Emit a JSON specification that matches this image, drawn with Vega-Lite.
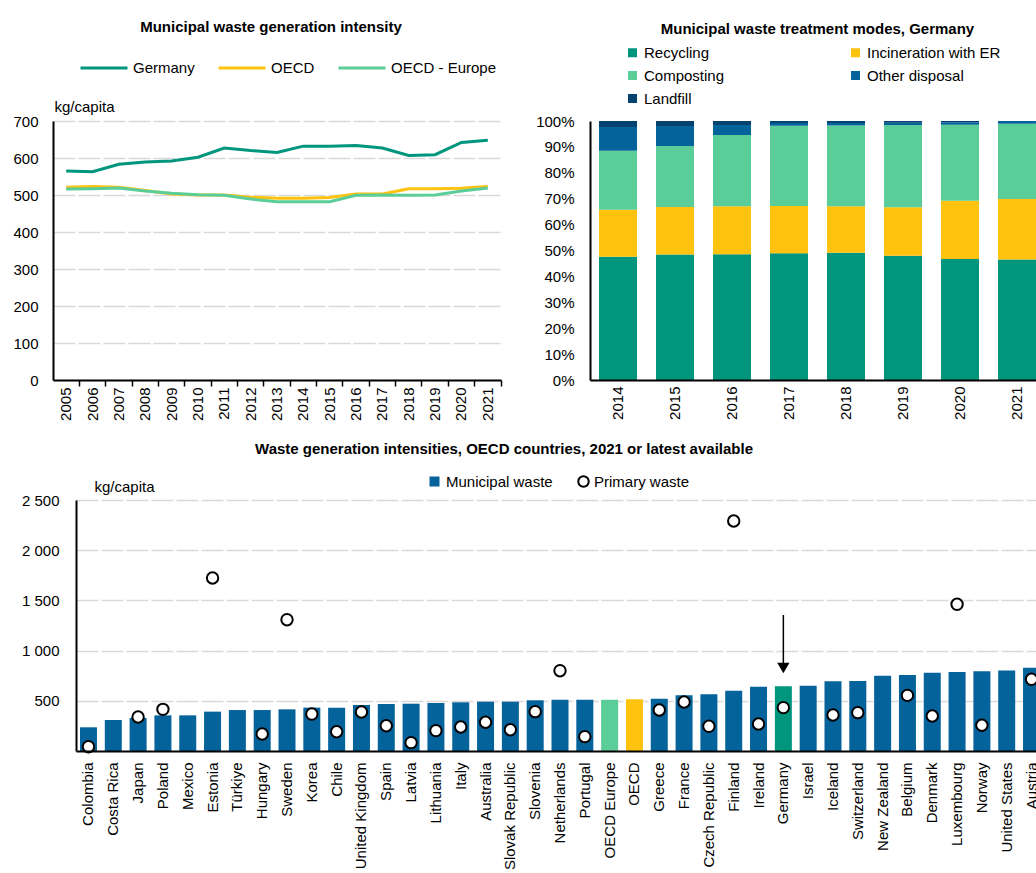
{
  "$schema": "https://vega.github.io/schema/vega-lite/v6.json",
  "background": "white",
  "padding": {"left": 12, "top": 20, "right": 0, "bottom": 0},
  "config": {
    "font": "Liberation Sans",
    "view": {"stroke": null},
    "axis": {
      "labelFont": "Liberation Sans",
      "titleFont": "Liberation Sans",
      "labelFontSize": 15,
      "titleFontSize": 15,
      "titleFontWeight": "normal",
      "labelColor": "#000",
      "titleColor": "#000",
      "domainColor": "#000",
      "domainWidth": 2,
      "tickColor": "#000",
      "tickWidth": 1.5,
      "gridColor": "#d9d9d9",
      "gridDash": [22, 3],
      "gridWidth": 1.5
    },
    "legend": {
      "labelFont": "Liberation Sans",
      "labelFontSize": 15,
      "labelColor": "#000"
    },
    "title": {
      "font": "Liberation Sans",
      "fontSize": 15,
      "fontWeight": "bold",
      "color": "#000",
      "anchor": "middle",
      "frame": "group"
    }
  },
  "spacing": 21,
  "resolve": {
    "scale": {"color": "independent", "stroke": "independent"},
    "legend": {"color": "independent", "stroke": "independent"}
  },
  "vconcat": [
    {
      "bounds": "flush",
      "spacing": 89,
      "resolve": {
        "scale": {"color": "independent"},
        "legend": {"color": "independent"}
      },
      "hconcat": [
        {
          "width": 448,
          "height": 259,
          "title": {"text": "Municipal waste generation intensity", "dx": -6, "offset": 8},
          "data": {
            "values": [
              {"year": "2005", "series": "Germany", "value": 565},
              {"year": "2006", "series": "Germany", "value": 563},
              {"year": "2007", "series": "Germany", "value": 583},
              {"year": "2008", "series": "Germany", "value": 589},
              {"year": "2009", "series": "Germany", "value": 592},
              {"year": "2010", "series": "Germany", "value": 602},
              {"year": "2011", "series": "Germany", "value": 627},
              {"year": "2012", "series": "Germany", "value": 620},
              {"year": "2013", "series": "Germany", "value": 615},
              {"year": "2014", "series": "Germany", "value": 632},
              {"year": "2015", "series": "Germany", "value": 632},
              {"year": "2016", "series": "Germany", "value": 634},
              {"year": "2017", "series": "Germany", "value": 627},
              {"year": "2018", "series": "Germany", "value": 607},
              {"year": "2019", "series": "Germany", "value": 609},
              {"year": "2020", "series": "Germany", "value": 642},
              {"year": "2021", "series": "Germany", "value": 648},
              {"year": "2005", "series": "OECD", "value": 521},
              {"year": "2006", "series": "OECD", "value": 523},
              {"year": "2007", "series": "OECD", "value": 521},
              {"year": "2008", "series": "OECD", "value": 512},
              {"year": "2009", "series": "OECD", "value": 503},
              {"year": "2010", "series": "OECD", "value": 500},
              {"year": "2011", "series": "OECD", "value": 500},
              {"year": "2012", "series": "OECD", "value": 494},
              {"year": "2013", "series": "OECD", "value": 491},
              {"year": "2014", "series": "OECD", "value": 491},
              {"year": "2015", "series": "OECD", "value": 493},
              {"year": "2016", "series": "OECD", "value": 503},
              {"year": "2017", "series": "OECD", "value": 503},
              {"year": "2018", "series": "OECD", "value": 517},
              {"year": "2019", "series": "OECD", "value": 517},
              {"year": "2020", "series": "OECD", "value": 518},
              {"year": "2021", "series": "OECD", "value": 523},
              {"year": "2005", "series": "OECD - Europe", "value": 516},
              {"year": "2006", "series": "OECD - Europe", "value": 517},
              {"year": "2007", "series": "OECD - Europe", "value": 519},
              {"year": "2008", "series": "OECD - Europe", "value": 511},
              {"year": "2009", "series": "OECD - Europe", "value": 505},
              {"year": "2010", "series": "OECD - Europe", "value": 501},
              {"year": "2011", "series": "OECD - Europe", "value": 499},
              {"year": "2012", "series": "OECD - Europe", "value": 489},
              {"year": "2013", "series": "OECD - Europe", "value": 482},
              {"year": "2014", "series": "OECD - Europe", "value": 482},
              {"year": "2015", "series": "OECD - Europe", "value": 482},
              {"year": "2016", "series": "OECD - Europe", "value": 499},
              {"year": "2017", "series": "OECD - Europe", "value": 500},
              {"year": "2018", "series": "OECD - Europe", "value": 499},
              {"year": "2019", "series": "OECD - Europe", "value": 500},
              {"year": "2020", "series": "OECD - Europe", "value": 511},
              {"year": "2021", "series": "OECD - Europe", "value": 519}
            ]
          },
          "resolve": {"axis": {"x": "independent"}},
          "layer": [
            {
              "mark": {"type": "line", "strokeWidth": 3},
              "encoding": {
                "x": {
                  "field": "year",
                  "type": "ordinal",
                  "scale": {"type": "band", "paddingInner": 0, "paddingOuter": 0},
                  "axis": {"orient": "bottom", "title": null, "labelAngle": -90, "ticks": false, "labelPadding": 7, "zindex": 1}
                },
                "y": {
                  "field": "value",
                  "type": "quantitative",
                  "scale": {"domain": [0, 700], "nice": false},
                  "axis": {
                    "values": [0, 100, 200, 300, 400, 500, 600, 700],
                    "labelOverlap": false,
                    "ticks": false,
                    "grid": true,
                    "labelPadding": 15,
                    "title": "kg/capita",
                    "titleAngle": 0,
                    "titleAlign": "left",
                    "titleBaseline": "alphabetic",
                    "titleX": 1,
                    "titleY": -10
                  }
                },
                "color": {
                  "field": "series",
                  "type": "nominal",
                  "scale": {
                    "domain": ["Germany", "OECD", "OECD - Europe"],
                    "range": ["#00957d", "#ffc20e", "#5acd99"]
                  },
                  "legend": {
                    "title": null,
                    "orient": "none",
                    "direction": "horizontal",
                    "legendX": 26,
                    "legendY": -78,
                    "symbolType": "stroke",
                    "symbolSize": 2209,
                    "symbolStrokeWidth": 3,
                    "labelOffset": 4,
                    "columnPadding": 17
                  }
                }
              }
            },
            {
              "mark": {"type": "point", "opacity": 0},
              "encoding": {
                "x": {
                  "field": "year",
                  "type": "ordinal",
                  "axis": {"orient": "bottom", "title": null, "labels": false, "domain": false, "grid": false, "ticks": true, "tickSize": 6, "bandPosition": 1}
                }
              }
            }
          ]
        },
        {
          "width": 455,
          "height": 259,
          "title": {"text": "Municipal waste treatment modes, Germany", "offset": 8},
          "data": {
            "values": [
              {"year": "2014", "mode": "Recycling", "share": 47.6},
              {"year": "2014", "mode": "Incineration with ER", "share": 18.1},
              {"year": "2014", "mode": "Composting", "share": 22.8},
              {"year": "2014", "mode": "Other disposal", "share": 9.2},
              {"year": "2014", "mode": "Landfill", "share": 2.3},
              {"year": "2015", "mode": "Recycling", "share": 48.5},
              {"year": "2015", "mode": "Incineration with ER", "share": 18.3},
              {"year": "2015", "mode": "Composting", "share": 23.5},
              {"year": "2015", "mode": "Other disposal", "share": 7.8},
              {"year": "2015", "mode": "Landfill", "share": 1.9},
              {"year": "2016", "mode": "Recycling", "share": 48.6},
              {"year": "2016", "mode": "Incineration with ER", "share": 18.5},
              {"year": "2016", "mode": "Composting", "share": 27.5},
              {"year": "2016", "mode": "Other disposal", "share": 3.9},
              {"year": "2016", "mode": "Landfill", "share": 1.5},
              {"year": "2017", "mode": "Recycling", "share": 48.9},
              {"year": "2017", "mode": "Incineration with ER", "share": 18.3},
              {"year": "2017", "mode": "Composting", "share": 31.0},
              {"year": "2017", "mode": "Other disposal", "share": 1.0},
              {"year": "2017", "mode": "Landfill", "share": 0.8},
              {"year": "2018", "mode": "Recycling", "share": 49.1},
              {"year": "2018", "mode": "Incineration with ER", "share": 18.0},
              {"year": "2018", "mode": "Composting", "share": 31.2},
              {"year": "2018", "mode": "Other disposal", "share": 0.9},
              {"year": "2018", "mode": "Landfill", "share": 0.8},
              {"year": "2019", "mode": "Recycling", "share": 48.0},
              {"year": "2019", "mode": "Incineration with ER", "share": 18.7},
              {"year": "2019", "mode": "Composting", "share": 31.8},
              {"year": "2019", "mode": "Other disposal", "share": 0.8},
              {"year": "2019", "mode": "Landfill", "share": 0.7},
              {"year": "2020", "mode": "Recycling", "share": 46.7},
              {"year": "2020", "mode": "Incineration with ER", "share": 22.5},
              {"year": "2020", "mode": "Composting", "share": 29.4},
              {"year": "2020", "mode": "Other disposal", "share": 0.9},
              {"year": "2020", "mode": "Landfill", "share": 0.5},
              {"year": "2021", "mode": "Recycling", "share": 46.5},
              {"year": "2021", "mode": "Incineration with ER", "share": 23.4},
              {"year": "2021", "mode": "Composting", "share": 29.0},
              {"year": "2021", "mode": "Other disposal", "share": 1.1},
              {"year": "2021", "mode": "Landfill", "share": 0.0}
            ]
          },
          "transform": [
            {"calculate": "indexof(['Recycling', 'Incineration with ER', 'Composting', 'Other disposal', 'Landfill'], datum.mode)", "as": "stackRank"}
          ],
          "mark": {"type": "bar"},
          "encoding": {
            "x": {
              "field": "year",
              "type": "ordinal",
              "scale": {"paddingInner": 0.333, "paddingOuter": 0.158},
              "axis": {"title": null, "labelAngle": -90, "ticks": false, "labelPadding": 6, "zindex": 1}
            },
            "y": {
              "field": "share",
              "type": "quantitative",
              "stack": "zero",
              "scale": {"domain": [0, 100], "nice": false},
              "axis": {
                "title": null,
                "values": [0, 10, 20, 30, 40, 50, 60, 70, 80, 90, 100],
                "labelExpr": "datum.value + '%'",
                "ticks": false,
                "grid": false,
                "labelPadding": 16
              }
            },
            "order": {"field": "stackRank", "type": "quantitative", "sort": "ascending"},
            "color": {
              "field": "mode",
              "type": "nominal",
              "scale": {
                "domain": ["Recycling", "Incineration with ER", "Composting", "Other disposal", "Landfill"],
                "range": ["#00957d", "#ffc20e", "#5acd99", "#05639c", "#044270"]
              },
              "legend": {
                "title": null,
                "orient": "none",
                "direction": "horizontal",
                "columns": 2,
                "legendX": 35,
                "legendY": -76,
                "symbolType": "square",
                "symbolSize": 81,
                "symbolStrokeWidth": 0,
                "labelOffset": 4,
                "columnPadding": 123,
                "rowPadding": 7
              }
            }
          }
        }
      ]
    },
    {
      "bounds": "flush",
      "spacing": 22,
      "resolve": {
        "scale": {"color": "independent", "stroke": "independent"},
        "legend": {"color": "independent", "stroke": "independent"}
      },
      "hconcat": [
        {
          "width": 1,
          "height": 10,
          "data": {"values": [{}]},
          "mark": {"type": "point", "opacity": 0},
          "encoding": {}
        },
        {
          "width": 968,
          "height": 251,
          "title": {"text": "Waste generation intensities, OECD countries, 2021 or latest available", "dx": -56, "offset": 17},
          "data": {
            "values": [
              {"country": "Colombia", "municipal": 236, "primary": 43, "group": "Municipal waste"},
              {"country": "Costa Rica", "municipal": 309, "primary": null, "group": "Municipal waste"},
              {"country": "Japan", "municipal": 329, "primary": 339, "group": "Municipal waste"},
              {"country": "Poland", "municipal": 355, "primary": 415, "group": "Municipal waste"},
              {"country": "Mexico", "municipal": 355, "primary": null, "group": "Municipal waste"},
              {"country": "Estonia", "municipal": 392, "primary": 1723, "group": "Municipal waste"},
              {"country": "Türkiye", "municipal": 408, "primary": null, "group": "Municipal waste"},
              {"country": "Hungary", "municipal": 408, "primary": 169, "group": "Municipal waste"},
              {"country": "Sweden", "municipal": 415, "primary": 1308, "group": "Municipal waste"},
              {"country": "Korea", "municipal": 432, "primary": 368, "group": "Municipal waste"},
              {"country": "Chile", "municipal": 432, "primary": 192, "group": "Municipal waste"},
              {"country": "United Kingdom", "municipal": 458, "primary": 388, "group": "Municipal waste"},
              {"country": "Spain", "municipal": 468, "primary": 252, "group": "Municipal waste"},
              {"country": "Latvia", "municipal": 471, "primary": 83, "group": "Municipal waste"},
              {"country": "Lithuania", "municipal": 478, "primary": 203, "group": "Municipal waste"},
              {"country": "Italy", "municipal": 485, "primary": 239, "group": "Municipal waste"},
              {"country": "Australia", "municipal": 491, "primary": 286, "group": "Municipal waste"},
              {"country": "Slovak Republic", "municipal": 491, "primary": 212, "group": "Municipal waste"},
              {"country": "Slovenia", "municipal": 505, "primary": 392, "group": "Municipal waste"},
              {"country": "Netherlands", "municipal": 511, "primary": 800, "group": "Municipal waste"},
              {"country": "Portugal", "municipal": 511, "primary": 143, "group": "Municipal waste"},
              {"country": "OECD Europe", "municipal": 511, "primary": null, "group": "OECD Europe"},
              {"country": "OECD", "municipal": 515, "primary": null, "group": "OECD"},
              {"country": "Greece", "municipal": 521, "primary": 408, "group": "Municipal waste"},
              {"country": "France", "municipal": 555, "primary": 488, "group": "Municipal waste"},
              {"country": "Czech Republic", "municipal": 564, "primary": 246, "group": "Municipal waste"},
              {"country": "Finland", "municipal": 601, "primary": 2291, "group": "Municipal waste"},
              {"country": "Ireland", "municipal": 641, "primary": 269, "group": "Municipal waste"},
              {"country": "Germany", "municipal": 646, "primary": 432, "group": "Germany"},
              {"country": "Israel", "municipal": 651, "primary": null, "group": "Municipal waste"},
              {"country": "Iceland", "municipal": 694, "primary": 359, "group": "Municipal waste"},
              {"country": "Switzerland", "municipal": 697, "primary": 382, "group": "Municipal waste"},
              {"country": "New Zealand", "municipal": 750, "primary": null, "group": "Municipal waste"},
              {"country": "Belgium", "municipal": 757, "primary": 554, "group": "Municipal waste"},
              {"country": "Denmark", "municipal": 780, "primary": 349, "group": "Municipal waste"},
              {"country": "Luxembourg", "municipal": 787, "primary": 1461, "group": "Municipal waste"},
              {"country": "Norway", "municipal": 794, "primary": 256, "group": "Municipal waste"},
              {"country": "United States", "municipal": 803, "primary": null, "group": "Municipal waste"},
              {"country": "Austria", "municipal": 830, "primary": 714, "group": "Municipal waste"}
            ]
          },
          "layer": [
            {
              "mark": {"type": "bar"},
              "encoding": {
                "x": {
                  "field": "country",
                  "type": "nominal",
                  "sort": null,
                  "scale": {"paddingInner": 0.315, "paddingOuter": 0.16},
                  "axis": {"title": null, "labelAngle": -90, "ticks": false, "labelPadding": 11, "labelLimit": 300, "zindex": 1}
                },
                "y": {
                  "field": "municipal",
                  "type": "quantitative",
                  "scale": {"domain": [0, 2500], "nice": false},
                  "axis": {
                    "values": [500, 1000, 1500, 2000, 2500],
                    "labelExpr": "replace(format(datum.value, ','), ',', ' ')",
                    "ticks": false,
                    "grid": true,
                    "labelPadding": 17,
                    "title": "kg/capita",
                    "titleAngle": 0,
                    "titleAlign": "left",
                    "titleBaseline": "alphabetic",
                    "titleX": 18,
                    "titleY": -9
                  }
                },
                "color": {
                  "field": "group",
                  "type": "nominal",
                  "scale": {
                    "domain": ["Municipal waste", "OECD Europe", "OECD", "Germany"],
                    "range": ["#05639c", "#5acd99", "#ffc20e", "#00957d"]
                  },
                  "legend": {
                    "values": ["Municipal waste"],
                    "title": null,
                    "orient": "none",
                    "legendX": 351,
                    "legendY": -26,
                    "symbolType": "square",
                    "symbolSize": 100,
                    "symbolStrokeWidth": 0,
                    "labelOffset": 4
                  }
                }
              }
            },
            {
              "mark": {"type": "point", "shape": "circle", "filled": false, "fill": "white", "fillOpacity": 1, "strokeWidth": 2, "size": 130, "opacity": 1},
              "encoding": {
                "x": {"field": "country", "type": "nominal", "sort": null},
                "y": {"field": "primary", "type": "quantitative"},
                "stroke": {
                  "datum": "Primary waste",
                  "scale": {"range": ["black"]},
                  "legend": {
                    "title": null,
                    "orient": "none",
                    "legendX": 500,
                    "legendY": -26,
                    "symbolType": "circle",
                    "symbolSize": 110,
                    "symbolFillColor": "white",
                    "symbolStrokeWidth": 2,
                    "labelOffset": 3
                  }
                }
              }
            },
            {
              "data": {"values": [{"country": "Germany", "from": 1355, "to": 827}]},
              "mark": {"type": "rule", "color": "black", "strokeWidth": 1.5},
              "encoding": {
                "x": {"field": "country", "type": "nominal", "sort": null},
                "y": {"field": "from", "type": "quantitative"},
                "y2": {"field": "to"}
              }
            },
            {
              "data": {"values": [{"country": "Germany", "from": 1355, "to": 827}]},
              "mark": {"type": "point", "shape": "triangle-down", "filled": true, "color": "black", "size": 150, "opacity": 1},
              "encoding": {
                "x": {"field": "country", "type": "nominal", "sort": null},
                "y": {"field": "to", "type": "quantitative"}
              }
            }
          ]
        }
      ]
    }
  ]
}
